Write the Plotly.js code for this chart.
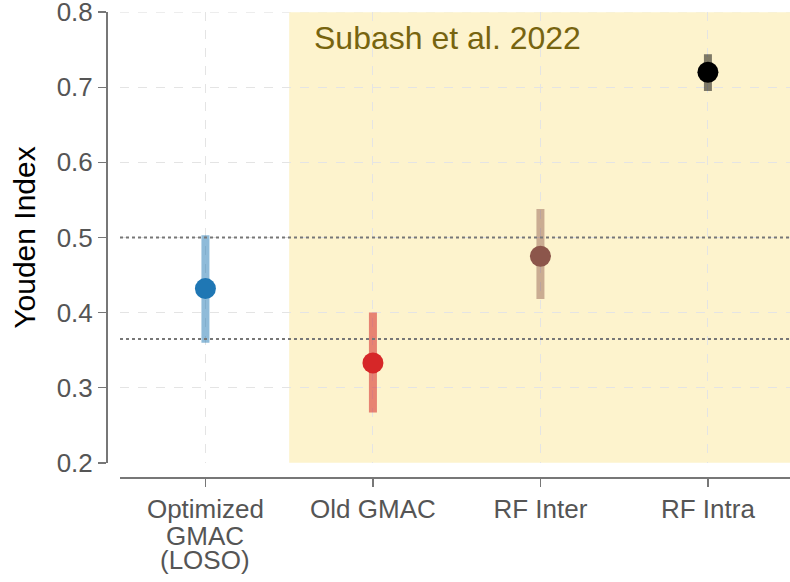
<!DOCTYPE html>
<html>
<head>
<meta charset="utf-8">
<script src="https://cdn.plot.ly/plotly-3.0.1.min.js"></script>
<style>html,body{margin:0;padding:0;background:#fff;}#chart{width:790px;height:582px;}</style>
</head>
<body>
<div id="chart"></div>
<script>
// ---- data ----
const categories = ["Optimized<br>GMAC<br>(LOSO)", "Old GMAC", "RF Inter", "RF Intra"];
const youden = [0.432, 0.333, 0.475, 0.720];
const errUp = [0.071, 0.067, 0.063, 0.024];
const errDown = [0.072, 0.066, 0.057, 0.025];
const markerColors = ["#1f77b4", "#d62728", "#8c564b", "#000000"];
const barColors = ["rgba(31,119,180,0.5)", "rgba(214,39,40,0.55)", "rgba(140,86,75,0.45)", "rgba(0,0,0,0.5)"];
const refLines = [0.5, 0.365];
const yTicks = [0.2, 0.3, 0.4, 0.5, 0.6, 0.7, 0.8];
const shadeStart = 0.5;
const shadeLabel = "Subash et al. 2022";

const FONT = "Liberation Sans, Arial, sans-serif";
const xIdx = categories.map((_, i) => i);

const traces = xIdx.map(i => ({
  type: "scatter",
  mode: "markers",
  x: [i],
  y: [youden[i]],
  marker: {color: markerColors[i], size: 21, line: {width: 0}},
  error_y: {type: "data", symmetric: false, array: [errUp[i]], arrayminus: [errDown[i]],
            color: barColors[i], thickness: 8, width: 0},
  showlegend: false,
  hoverinfo: "x+y"
}));

const firstLines = categories.map(c => c.split("<br>")[0]);
const extraAnn = [];
categories.forEach((c, i) => {
  c.split("<br>").slice(1).forEach((line, k) => {
    extraAnn.push({
      xref: "x", yref: "paper", x: i, y: 0, yanchor: "top", showarrow: false,
      text: line, font: {family: FONT, size: 26, color: "#555555"},
      yshift: -42 - 24 * k
    });
  });
});

const yMin = yTicks[0], yMax = yTicks[yTicks.length - 1];
const shapes = [
  {type: "rect", xref: "x", yref: "y", x0: shadeStart, x1: categories.length - 0.5,
   y0: yMin, y1: yMax, fillcolor: "#fdf3cd", line: {width: 0}, layer: "below"},
  {type: "line", xref: "paper", yref: "y", x0: 14 / 684, x1: 1, y0: yMax, y1: yMax,
   line: {color: "#e4e4e4", width: 1, dash: "dash"}, layer: "below"}
].concat(refLines.map(v => ({
  type: "line", xref: "paper", yref: "y", x0: 14 / 684, x1: 1, y0: v, y1: v,
  line: {color: "#777777", width: 2, dash: "dot"}, layer: "above"
})));

const layout = {
  width: 790, height: 582,
  margin: {l: 106, r: 0, t: 12, b: 105},
  paper_bgcolor: "#ffffff", plot_bgcolor: "rgba(0,0,0,0)",
  font: {family: FONT, color: "#555555"},
  xaxis: {
    domain: [14 / 684, 1], anchor: "free", position: 0,
    range: [-0.51, categories.length - 0.51],
    tickmode: "array", tickvals: xIdx, ticktext: firstLines,
    tickfont: {family: FONT, size: 26, color: "#555555"},
    ticks: "outside", ticklen: 8, tickwidth: 1.5, tickcolor: "#777777",
    showline: true, linecolor: "#777777", linewidth: 1.5,
    showgrid: true, gridcolor: "#e4e4e4", gridwidth: 1, griddash: "dash",
    zeroline: false, fixedrange: true
  },
  yaxis: {
    domain: [14 / 465, 1], anchor: "free", position: 0,
    range: [yMin - 0.0002, yMax + 0.0002],
    tickmode: "array", tickvals: yTicks, ticktext: yTicks.map(v => v.toFixed(1)),
    tickfont: {family: FONT, size: 26, color: "#555555"},
    ticklabeloverflow: "allow",
    ticks: "outside", ticklen: 8, tickwidth: 1.5, tickcolor: "#777777",
    showline: true, linecolor: "#777777", linewidth: 1.5,
    showgrid: true, gridcolor: "#e4e4e4", gridwidth: 1, griddash: "dash",
    zeroline: false, fixedrange: true,
    title: {text: "Youden Index", font: {family: FONT, size: 30, color: "#000000"}, standoff: 10}
  },
  shapes: shapes,
  annotations: [
    {xref: "x", yref: "y", x: 0.634, y: 0.766, xanchor: "left", yanchor: "middle", showarrow: false,
     text: shadeLabel, font: {family: FONT, size: 32, color: "#77640f"}}
  ].concat(extraAnn)
};

Plotly.newPlot("chart", traces, layout, {displayModeBar: false, staticPlot: true});
</script>
</body>
</html>
